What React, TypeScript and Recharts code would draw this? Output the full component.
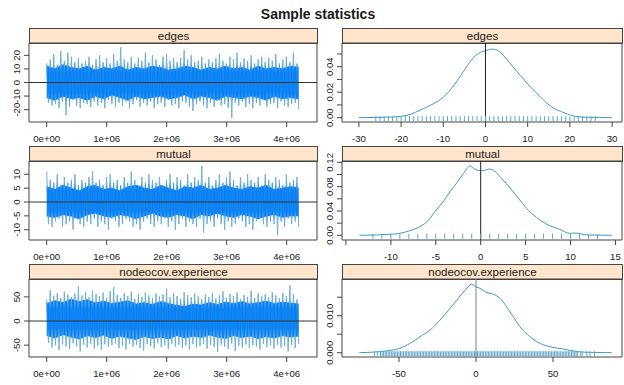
import React from "react";
import {
  ComposedChart,
  XAxis,
  YAxis,
  Area,
  Line,
  Scatter,
  ReferenceLine,
  ReferenceArea,
} from "recharts";

const FONT = '"Liberation Sans", Arial, Helvetica, sans-serif';

// ---------- text ----------
const TITLE = "Sample statistics";
const STAT_NAMES = ["edges", "mutual", "nodeocov.experience"];

// ---------- trace plots (left column) ----------
const ITER_MAX = 4.2e6;
const TRACE_X_TICKS = [0, 1e6, 2e6, 3e6, 4e6];
const TRACE_X_LABELS = ["0e+00", "1e+06", "2e+06", "3e+06", "4e+06"];

const edgesSpikeHigh = [
  14, 17, 21, 13, 23, 16, 22, 19, 15, 18, 14, 16,
  19, 13, 17, 20, 15, 18, 14, 21, 16, 26, 17, 15,
  19, 14, 18, 16, 22, 15, 20, 17, 13, 19, 21, 16,
  18, 15, 18, 24, 17, 20, 15, 16, 19, 14, 17, 15,
  18, 21, 16, 14, 19, 17, 22, 15, 18, 16, 20, 14,
  17, 19, 15, 18, 16, 21, 14, 17, 19, 15, 22, 14,
];
const edgesSpikeLow = [
  -15, -17, -16, -19, -14, -24, -18, -13, -17, -19, -15, -16,
  -18, -14, -17, -15, -19, -13, -16, -18, -15, -17, -14, -19,
  -16, -13, -18, -15, -17, -14, -19, -16, -15, -18, -13, -17,
  -16, -19, -14, -15, -18, -21, -16, -14, -17, -19, -15, -18,
  -13, -17, -16, -19, -26, -15, -17, -14, -18, -16, -19, -15,
  -17, -13, -18, -16, -15, -19, -14, -17, -18, -16, -15, -20,
];
const edgesCoreHigh = [12, 10, 13, 11, 10, 12, 9, 11, 10, 12, 9, 11, 10, 12, 11, 9, 10, 12, 11, 9, 11, 10, 12, 10, 11, 9, 12, 10, 11, 10, 12, 11];
const edgesCoreLow = [-11, -13, -10, -12, -11, -13, -10, -12, -9, -11, -13, -10, -12, -11, -10, -12, -11, -9, -12, -10, -11, -13, -10, -11, -12, -10, -11, -13, -10, -12, -11, -12];
const edgesTraceTicks = [-20, -10, 0, 10, 20];
const edgesTraceLabels = ["-20", "-10", "0", "10", "20"];

const mutualSpikeHigh = [
  11, 8, 7, 10, 6, 9, 7, 8, 10, 6, 8, 7,
  9, 11, 7, 8, 6, 9, 10, 7, 8, 6, 9, 7,
  11, 8, 6, 9, 7, 10, 8, 7, 9, 6, 8, 10,
  7, 9, 8, 6, 10, 7, 9, 8, 13, 7, 9, 6,
  8, 10, 7, 9, 11, 8, 6, 9, 7, 10, 8, 7,
  9, 6, 10, 8, 7, 9, 8, 6, 10, 7, 8, 9,
];
const mutualSpikeLow = [
  -8, -9, -7, -6, -9, -8, -7, -10, -6, -8, -9, -7,
  -8, -6, -9, -7, -8, -10, -6, -7, -9, -8, -6, -7,
  -9, -8, -10, -7, -6, -8, -9, -7, -8, -6, -9, -7,
  -10, -8, -6, -9, -7, -8, -9, -6, -11, -8, -7, -9,
  -6, -8, -10, -7, -9, -8, -6, -7, -9, -8, -10, -7,
  -6, -8, -9, -7, -8, -12, -7, -9, -6, -8, -7, -9,
];
const mutualCoreHigh = [5.5, 4.5, 6, 5, 4, 5.5, 6, 4.5, 5, 4, 5.5, 6, 5, 4.5, 6, 5, 4, 5.5, 5, 6, 4.5, 5, 6, 5, 4.5, 5.5, 5, 6, 4.5, 5, 5.5, 5];
const mutualCoreLow = [-5, -5.5, -4.5, -5, -6, -4.5, -4, -5, -5.5, -4.5, -5, -6, -5, -4, -5, -5.5, -4.5, -5, -6, -4.5, -5, -4, -5, -5.5, -4.5, -5, -6, -5, -4.5, -5.5, -5, -5];
const mutualTraceTicks = [-10, -5, 0, 5, 10];
const mutualTraceLabels = ["-10", "-5", "0", "5", "10"];

const nodeSpikeHigh = [
  45, 64, 52, 58, 48, 61, 55, 50, 57, 72, 53, 60,
  49, 63, 56, 51, 59, 47, 62, 70, 54, 48, 58, 52,
  61, 46, 56, 50, 59, 53, 48, 57, 51, 55, 67, 49,
  58, 52, 46, 60, 54, 49, 57, 51, 45, 55, 50, 58,
  47, 53, 61, 48, 56, 52, 59, 46, 54, 50, 63, 48,
  57, 51, 55, 49, 60, 53, 47, 58, 52, 74, 56, 45,
];
const nodeSpikeLow = [
  -45, -55, -50, -60, -48, -53, -58, -46, -52, -63, -49, -55,
  -47, -57, -51, -60, -48, -54, -50, -46, -56, -52, -59, -47,
  -53, -49, -55, -61, -48, -52, -57, -46, -54, -50, -58, -47,
  -53, -49, -56, -51, -60, -48, -55, -52, -47, -57, -50, -54,
  -64, -49, -53, -58, -47, -62, -51, -55, -48, -56, -50, -53,
  -59, -47, -54, -51, -57, -49, -55, -52, -63, -50, -56, -48,
];
const nodeCoreHigh = [36, 42, 38, 45, 40, 44, 37, 41, 36, 39, 42, 35, 38, 34, 40, 36, 32, 30, 35, 33, 38, 34, 39, 36, 40, 35, 38, 41, 36, 39, 37, 35];
const nodeCoreLow = [-30, -35, -28, -33, -37, -30, -34, -29, -36, -31, -35, -38, -32, -36, -33, -37, -30, -35, -31, -34, -29, -33, -36, -30, -34, -31, -36, -32, -35, -30, -33, -31];
const nodeTraceTicks = [-50, 0, 50];
const nodeTraceLabels = ["-50", "0", "50"];

// ---------- density plots (right column) ----------
const edgesDensX = [-30, -25.7, -20.9, -17.8, -15.4, -13.0, -9.9, -7.5, -5.9, -4.3, -2.8, -1.2, 0.4, 1.6, 2.8, 4.3, 5.9, 8.3, 10.7, 13.0, 15.4, 18.6, 21.7, 24.1, 30];
const edgesDensY = [0, 0.0002, 0.0008, 0.0026, 0.006, 0.0098, 0.0163, 0.0253, 0.033, 0.0408, 0.0473, 0.0512, 0.053, 0.0538, 0.053, 0.0486, 0.0422, 0.033, 0.024, 0.0163, 0.0091, 0.0039, 0.0008, 0.0003, 0];
const edgesRug = [-26, -25, -24, -23, -22, -21, -20, -19, -18, -17, -16, -15, -14, -13, -12, -11, -10, -9, -8, -7, -6, -5, -4, -3, -2, -1, 0, 1, 2, 3, 4, 5, 6, 7, 8, 9, 10, 11, 12, 13, 14, 15, 16, 17, 18, 19, 20, 21, 22, 23, 24, 25, 26];
const edgesDensXTicks = [-30, -20, -10, 0, 10, 20, 30];
const edgesDensXLabels = ["-30", "-20", "-10", "0", "10", "20", "30"];
const edgesDensYTicks = [0, 0.01, 0.02, 0.03, 0.04, 0.05];
const edgesDensYLabels = ["0.00", "", "0.02", "", "0.04", ""];

const mutualDensX = [-13.5, -9.7, -7.9, -6.8, -5.8, -5.1, -4.2, -3.4, -2.7, -1.9, -1.2, -0.6, 0.1, 1.0, 1.6, 2.3, 3.3, 4.2, 5.1, 6.2, 7.3, 8.8, 9.9, 10.7, 11.8, 14.6];
const mutualDensY = [0, 0.002, 0.0076, 0.014, 0.025, 0.039, 0.055, 0.072, 0.0855, 0.102, 0.114, 0.1085, 0.106, 0.109, 0.105, 0.094, 0.0775, 0.061, 0.0444, 0.0296, 0.0186, 0.0099, 0.0033, 0.0036, 0.0006, 0];
const mutualRug = [-12, -11, -10, -9, -8, -7, -6, -5, -4, -3, -2, -1, 0, 1, 2, 3, 4, 5, 6, 7, 8, 9, 10, 11, 12, 13];
const mutualDensXTicks = [-15, -10, -5, 0, 5, 10, 15];
const mutualDensXLabels = ["", "-10", "-5", "0", "5", "10", "15"];
const mutualDensYTicks = [0, 0.02, 0.04, 0.06, 0.08, 0.1, 0.12];
const mutualDensYLabels = ["0.00", "", "0.04", "", "0.08", "", "0.12"];

const nodeDensX = [-75.8, -58, -49.4, -42.9, -36.4, -29.9, -23.4, -16.9, -11.5, -7.1, -2.8, 0, 2.6, 6.9, 11.3, 15.6, 19.9, 24.2, 28.6, 35.1, 41.6, 48.1, 56.7, 65.4, 74, 88.1];
const nodeDensY = [0, 0.0005, 0.0012, 0.0025, 0.0043, 0.0061, 0.0088, 0.012, 0.0147, 0.0169, 0.0185, 0.0178, 0.0174, 0.0163, 0.0158, 0.0147, 0.0124, 0.0097, 0.007, 0.0043, 0.0025, 0.0016, 0.001, 0.0003, 0.0001, 0];
const nodeRug = [
  -66, -64, -62, -61, -60, -59, -58, -57, -56, -55, -54, -53, -52, -51, -50, -49, -48, -47, -46, -45, -44, -43, -42, -41,
  -40, -39, -38, -37, -36, -35, -34, -33, -32, -31, -30, -29, -28, -27, -26, -25, -24, -23, -22, -21, -20, -19, -18, -17,
  -16, -15, -14, -13, -12, -11, -10, -9, -8, -7, -6, -5, -4, -3, -2, -1, 0, 1, 2, 3, 4, 5, 6, 7,
  8, 9, 10, 11, 12, 13, 14, 15, 16, 17, 18, 19, 20, 21, 22, 23, 24, 25, 26, 27, 28, 29, 30, 31,
  32, 33, 34, 35, 36, 37, 38, 39, 40, 41, 42, 43, 44, 45, 46, 47, 48, 49, 50, 51, 52, 53, 54, 55,
  56, 57, 58, 59, 60, 61, 62, 63, 64, 65, 66, 68, 69, 72, 74, 77,
];
const nodeDensXTicks = [-50, 0, 50];
const nodeDensXLabels = ["-50", "0", "50"];
const nodeDensYTicks = [0, 0.005, 0.01, 0.015];
const nodeDensYLabels = ["0.000", "", "0.010", ""];

// ---------- layout ----------
const ROWS = [
  { stripTop: 28, plotTop: 43, plotBottom: 122 },
  { stripTop: 146, plotTop: 161, plotBottom: 240 },
  { stripTop: 264, plotTop: 279, plotBottom: 357 },
];
const COLS = [
  { left: 0, width: 320, plotLeft: 29, plotRight: 317 },
  { left: 320, width: 304, plotLeft: 22, plotRight: 302 },
];
const AXIS_H = 30;
const PAD = 12;

const TRACE_CORE = "#0080ff";
const SPIKE_MID = "#1a86ea";
const SPIKE_TIP = "#6fb0d4";
const DENS_LINE = "#3f98cc";
const RUG = "#5aa6cc";
const BOX = "#444";
const TXT = "#1a1a1a";

function XTick(props: any) {
  const { x, y, payload, ticks, labels } = props;
  const i = ticks.indexOf(payload.value);
  const label = i >= 0 ? labels[i] : "";
  return (
    <text x={x} y={y + 14.5} textAnchor="middle" fontSize={9.6} fontFamily={FONT} fill={TXT}>
      {label}
    </text>
  );
}

function YTick(props: any) {
  const { x, y, payload, ticks, labels } = props;
  const i = ticks.indexOf(payload.value);
  const label = i >= 0 ? labels[i] : "";
  const bx = x - 4;
  return (
    <text
      x={bx}
      y={y}
      transform={`rotate(-90 ${bx} ${y})`}
      textAnchor="middle"
      fontSize={9.6}
      fontFamily={FONT}
      fill={TXT}
    >
      {label}
    </text>
  );
}

function Strip({ row, col, name }: { row: number; col: number; name: string }) {
  const r = ROWS[row];
  const c = COLS[col];
  const h = r.plotTop - r.stripTop + 1;
  return (
    <div
      style={{
        position: "absolute",
        left: c.left + c.plotLeft,
        top: r.stripTop,
        width: c.plotRight - c.plotLeft + 1,
        height: h,
        boxSizing: "border-box",
        border: `1px solid ${BOX}`,
        background: "#ffe5cc",
        fontFamily: FONT,
        fontSize: 11.5,
        lineHeight: `${h - 2}px`,
        textAlign: "center",
        color: TXT,
        whiteSpace: "nowrap",
      }}
    >
      {name}
    </div>
  );
}

type TraceProps = {
  row: number;
  highs: number[];
  lows: number[];
  coreHighs: number[];
  coreLows: number[];
  yDomain: [number, number];
  yTicks: number[];
  yLabels: string[];
};

function TracePanel({ row, highs, lows, coreHighs, coreLows, yDomain, yTicks, yLabels }: TraceProps) {
  const r = ROWS[row];
  const c = COLS[0];
  const plotH = r.plotBottom - r.plotTop;
  // zig-zag trace: alternate the read spike tops and bottoms along the iterations
  const m = highs.length * 2;
  const trace = Array.from({ length: m }, (_, j) => ({
    x: (j * ITER_MAX) / (m - 1),
    v: j % 2 === 0 ? highs[j / 2] : lows[(j - 1) / 2],
  }));
  const core = coreHighs.map((h, i) => ({ x: (i * ITER_MAX) / (coreHighs.length - 1), core: [coreLows[i], h] }));
  const xDomain: [number, number] = [-0.295e6, 4.505e6];
  const gid = `spikeGrad${row}`;
  return (
    <div style={{ position: "absolute", left: c.left, top: r.plotTop - PAD }}>
      <ComposedChart
        width={c.width}
        height={plotH + PAD + AXIS_H}
        data={trace}
        margin={{ top: PAD, right: c.width - c.plotRight, bottom: 0, left: 0 }}
      >
        <defs>
          <linearGradient id={gid} x1="0" y1="0" x2="0" y2="1">
            <stop offset="0%" stopColor={SPIKE_TIP} />
            <stop offset="22%" stopColor={SPIKE_TIP} />
            <stop offset="36%" stopColor={SPIKE_MID} />
            <stop offset="64%" stopColor={SPIKE_MID} />
            <stop offset="78%" stopColor={SPIKE_TIP} />
            <stop offset="100%" stopColor={SPIKE_TIP} />
          </linearGradient>
        </defs>
        <XAxis
          type="number"
          dataKey="x"
          domain={xDomain}
          allowDataOverflow
          ticks={TRACE_X_TICKS}
          interval={0}
          height={AXIS_H}
          tickSize={5}
          tickMargin={0}
          axisLine={false}
          tickLine={{ stroke: BOX }}
          tick={(p: any) => <XTick {...p} ticks={TRACE_X_TICKS} labels={TRACE_X_LABELS} />}
        />
        <YAxis
          type="number"
          domain={yDomain}
          allowDataOverflow
          ticks={yTicks}
          interval={0}
          width={c.plotLeft}
          tickSize={5}
          tickMargin={0}
          axisLine={false}
          tickLine={{ stroke: BOX }}
          tick={(p: any) => <YTick {...p} ticks={yTicks} labels={yLabels} />}
        />
        <Area
          data={core}
          dataKey="core"
          type="linear"
          stroke={TRACE_CORE}
          strokeWidth={1}
          fill={TRACE_CORE}
          fillOpacity={1}
          isAnimationActive={false}
          dot={false}
          activeDot={false}
        />
        <Line
          dataKey="v"
          type="linear"
          stroke={`url(#${gid})`}
          strokeWidth={1}
          dot={false}
          activeDot={false}
          isAnimationActive={false}
        />
        <ReferenceLine y={0} stroke="#333" strokeWidth={1} />
        <ReferenceArea
          x1={xDomain[0]}
          x2={xDomain[1]}
          y1={yDomain[0]}
          y2={yDomain[1]}
          fill="none"
          fillOpacity={0}
          stroke={BOX}
          strokeWidth={1}
          ifOverflow="visible"
        />
      </ComposedChart>
    </div>
  );
}

type DensProps = {
  row: number;
  xs: number[];
  ys: number[];
  rug: number[];
  xDomain: [number, number];
  yDomain: [number, number];
  xTicks: number[];
  xLabels: string[];
  yTicks: number[];
  yLabels: string[];
  zeroColor: string;
};

function DensityPanel({ row, xs, ys, rug, xDomain, yDomain, xTicks, xLabels, yTicks, yLabels, zeroColor }: DensProps) {
  const r = ROWS[row];
  const c = COLS[1];
  const plotH = r.plotBottom - r.plotTop;
  const data = xs.map((x, i) => ({ x, d: ys[i] }));
  const rugData = rug.map((x) => ({ x, d: 0 }));
  return (
    <div style={{ position: "absolute", left: c.left, top: r.plotTop - PAD }}>
      <ComposedChart
        width={c.width}
        height={plotH + PAD + AXIS_H}
        data={data}
        margin={{ top: PAD, right: c.width - c.plotRight, bottom: 0, left: 0 }}
      >
        <XAxis
          type="number"
          dataKey="x"
          domain={xDomain}
          allowDataOverflow
          ticks={xTicks}
          interval={0}
          height={AXIS_H}
          tickSize={5}
          tickMargin={0}
          axisLine={false}
          tickLine={{ stroke: BOX }}
          tick={(p: any) => <XTick {...p} ticks={xTicks} labels={xLabels} />}
        />
        <YAxis
          type="number"
          domain={yDomain}
          allowDataOverflow
          ticks={yTicks}
          interval={0}
          width={c.plotLeft}
          tickSize={5}
          tickMargin={0}
          axisLine={false}
          tickLine={{ stroke: BOX }}
          tick={(p: any) => <YTick {...p} ticks={yTicks} labels={yLabels} />}
        />
        <Scatter
          data={rugData}
          dataKey="d"
          isAnimationActive={false}
          shape={(p: any) => (
            <line x1={p.cx} x2={p.cx} y1={p.cy - 1.5} y2={p.cy + 3.5} stroke={RUG} strokeWidth={1} />
          )}
        />
        <Line
          dataKey="d"
          type="monotone"
          stroke={DENS_LINE}
          strokeWidth={1}
          dot={false}
          activeDot={false}
          isAnimationActive={false}
        />
        <ReferenceLine x={0} stroke={zeroColor} strokeWidth={1} />
        <ReferenceArea
          x1={xDomain[0]}
          x2={xDomain[1]}
          y1={yDomain[0]}
          y2={yDomain[1]}
          fill="none"
          fillOpacity={0}
          stroke={BOX}
          strokeWidth={1}
          ifOverflow="visible"
        />
      </ComposedChart>
    </div>
  );
}

export default function App() {
  return (
    <div
      style={{
        position: "absolute",
        left: 0,
        top: 0,
        width: 624,
        height: 385,
        background: "#ffffff",
        overflow: "hidden",
        fontFamily: FONT,
      }}
    >
      <div
        style={{
          position: "absolute",
          left: 6,
          top: 5,
          width: 624,
          textAlign: "center",
          fontSize: 14,
          fontWeight: "bold",
          lineHeight: "18px",
          color: TXT,
        }}
      >
        {TITLE}
      </div>

      {STAT_NAMES.map((n, i) => (
        <Strip key={`l${i}`} row={i} col={0} name={n} />
      ))}
      {STAT_NAMES.map((n, i) => (
        <Strip key={`r${i}`} row={i} col={1} name={n} />
      ))}

      <TracePanel
        row={0}
        highs={edgesSpikeHigh}
        lows={edgesSpikeLow}
        coreHighs={edgesCoreHigh}
        coreLows={edgesCoreLow}
        yDomain={[-29.1, 29.1]}
        yTicks={edgesTraceTicks}
        yLabels={edgesTraceLabels}
      />
      <TracePanel
        row={1}
        highs={mutualSpikeHigh}
        lows={mutualSpikeLow}
        coreHighs={mutualCoreHigh}
        coreLows={mutualCoreLow}
        yDomain={[-13.7, 14.8]}
        yTicks={mutualTraceTicks}
        yLabels={mutualTraceLabels}
      />
      <TracePanel
        row={2}
        highs={nodeSpikeHigh}
        lows={nodeSpikeLow}
        coreHighs={nodeCoreHigh}
        coreLows={nodeCoreLow}
        yDomain={[-74.5, 87]}
        yTicks={nodeTraceTicks}
        yLabels={nodeTraceLabels}
      />

      <DensityPanel
        row={0}
        xs={edgesDensX}
        ys={edgesDensY}
        rug={edgesRug}
        xDomain={[-34.0, 32.35]}
        yDomain={[-0.0034, 0.0586]}
        xTicks={edgesDensXTicks}
        xLabels={edgesDensXLabels}
        yTicks={edgesDensYTicks}
        yLabels={edgesDensYLabels}
        zeroColor="#222"
      />
      <DensityPanel
        row={1}
        xs={mutualDensX}
        ys={mutualDensY}
        rug={mutualRug}
        xDomain={[-15.44, 15.73]}
        yDomain={[-0.0077, 0.1222]}
        xTicks={mutualDensXTicks}
        xLabels={mutualDensXLabels}
        yTicks={mutualDensYTicks}
        yLabels={mutualDensYLabels}
        zeroColor="#222"
      />
      <DensityPanel
        row={2}
        xs={nodeDensX}
        ys={nodeDensY}
        rug={nodeRug}
        xDomain={[-87.0, 94.8]}
        yDomain={[-0.00116, 0.01992]}
        xTicks={nodeDensXTicks}
        xLabels={nodeDensXLabels}
        yTicks={nodeDensYTicks}
        yLabels={nodeDensYLabels}
        zeroColor="#808080"
      />
    </div>
  );
}
